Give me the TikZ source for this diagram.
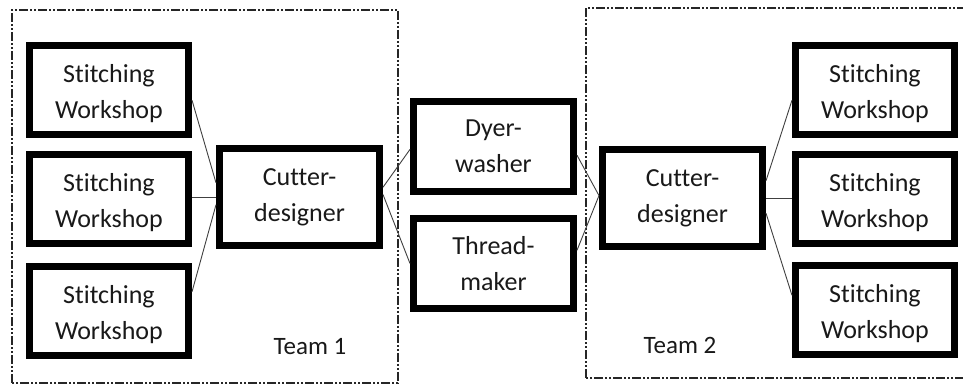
\documentclass[tikz,border=0pt]{standalone}
\usepackage{fontspec}
\setmainfont{Carlito}[Ligatures=NoCommon]
\usetikzlibrary{positioning, calc}

\newcommand{\wstext}{\rule{0pt}{26pt}Stitching\\Workshop}

\tikzset{
  unit/.style={draw, line width=7pt, inner sep=0pt, align=center,
    text=black!90, font=\fontsize{26}{36}\selectfont},
  workshop/.style={unit, minimum width=159pt, minimum height=89pt},
  designer/.style={unit, minimum width=160pt, minimum height=97pt},
  supplier/.style={unit, minimum width=160pt, minimum height=90pt},
  link/.style={draw=black!75, line width=0.9pt},
  teambox/.style={draw=black!85, line width=2pt,
    dash pattern=on 9pt off 2pt on 2pt off 2pt on 2pt off 2pt}
}

\begin{document}
\begin{tikzpicture}[x=1pt, y=1pt]
\clip (0,0) rectangle (963,385);
\fill[white] (0,0) rectangle (963,385);

% team boundaries
\draw[teambox] (12,2) rectangle (398,375);
\draw[teambox] (586,7) rectangle (975,377);

% team 1
\node[workshop] (swl1) at (109,295) {\wstext};
\node[workshop] (swl2) at (109,186) {\wstext};
\node[workshop] (swl3) at (109,74) {\wstext};
\node[designer] (cdl) at (299.5,187.5) {Cutter-\\designer};

% shared suppliers
\node[supplier] (dyer) at (493.5,238.5) {Dyer-\\washer};
\node[supplier] (thread) at (493.5,121.5) {Thread-\\maker};

% team 2
\node[designer] (cdr) at (682.5,186.5) {Cutter-\\designer};
\node[workshop] (swr1) at (875,295) {\wstext};
\node[workshop] (swr2) at (875,186) {\wstext};
\node[workshop] (swr3) at (875,75) {\wstext};

\node[font=\fontsize{25}{30}\selectfont, text=black!90] (team1) at (310,38) {Team 1};
\node[font=\fontsize{25}{30}\selectfont, text=black!90] (team2) at (680,40) {Team 2};

\draw[link] (swl1.-7) -- (cdl.170);
\draw[link] (cdl.west) -- (cdl.west -| swl2.east);
\draw[link] (swl3.13) -- (cdl.-175);

\draw[link] (cdl.7) -- (dyer.-178);
\draw[link] (cdl.2) -- (thread.west);
\draw[link] (dyer.-6) -- (cdr.178);
\draw[link] (thread.9) -- (cdr.178);

\draw[link] (cdr.12) -- (swr1.-173);
\draw[link] (cdr.east) -- (cdr.east -| swr2.west);
\draw[link] (cdr.-10) -- (swr3.170);
\end{tikzpicture}
\end{document}
